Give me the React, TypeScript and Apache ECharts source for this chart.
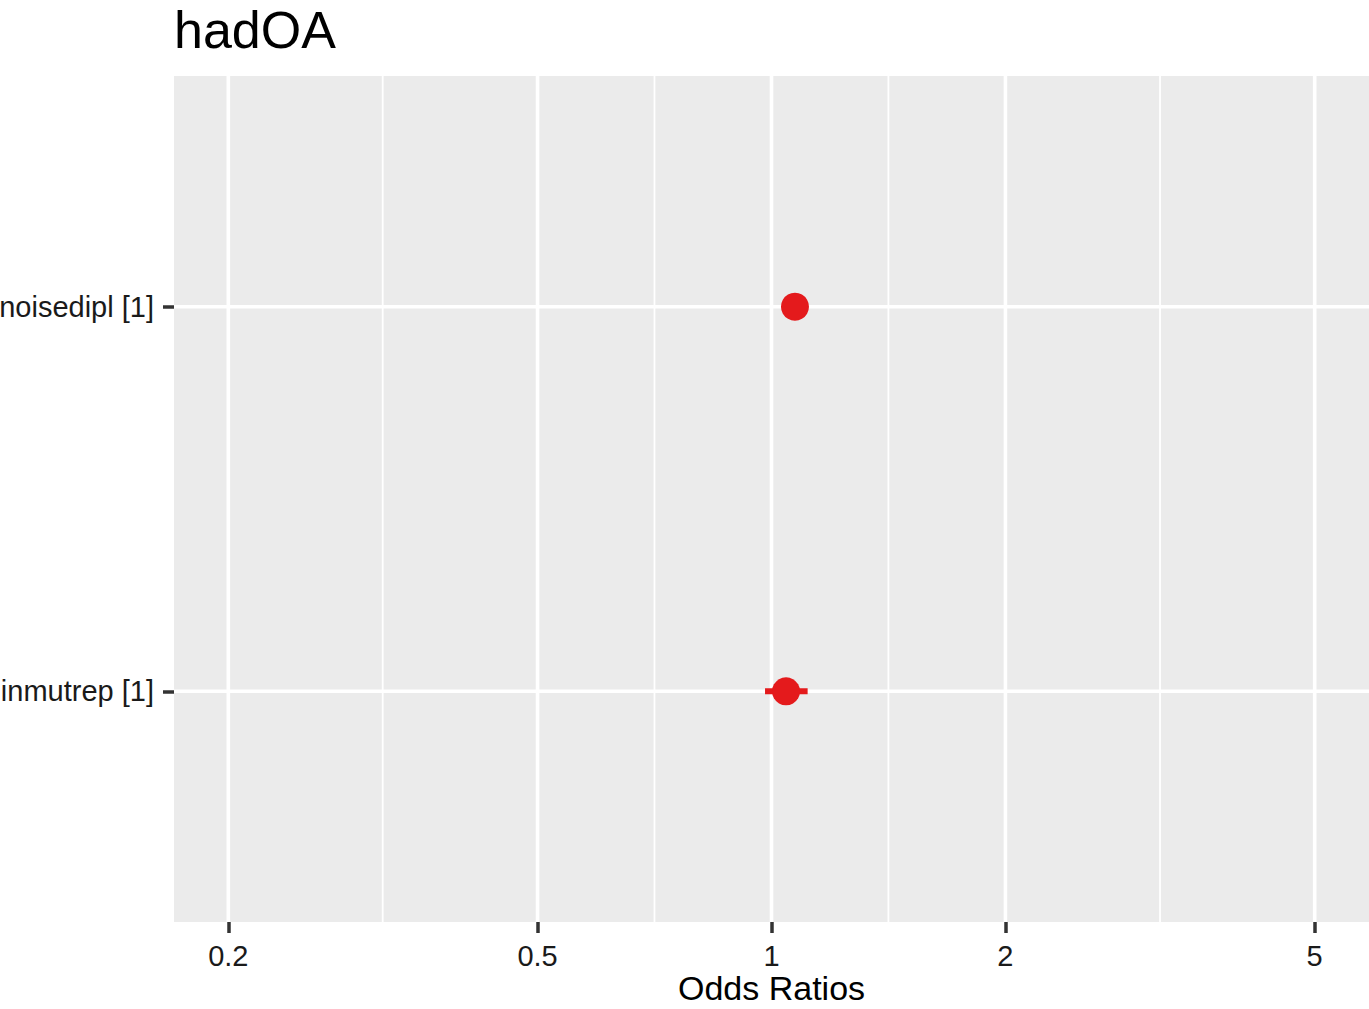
import React, { useEffect, useRef } from "react";
import * as echarts from "echarts";

const plotTitle = "hadOA";
const axisTitle = "Odds Ratios";
const terms = ["inmutrep [1]", "noisedipl [1]"];
const termPositions = [1, 2];
const oddsRatios = [1.044, 1.072];
const ciLow = [0.981, 1.045];
const ciHigh = [1.113, 1.1];
const majorBreaks = [0.2, 0.5, 1, 2, 5];
const minorBreaks = [0.316, 0.707, 1.414, 3.162];
const xLimits = [0.2, 5];

const FONT = "'Liberation Sans', Arial, Helvetica, sans-serif";

export default function App() {
  const ref = useRef<HTMLDivElement>(null);
  useEffect(() => {
    document.body.style.margin = "0";
    if (!ref.current) return;
    const chart = echarts.init(ref.current, null, { renderer: "svg" });
    const lo = Math.log10(xLimits[0]);
    const hi = Math.log10(xLimits[1]);
    const pad = 0.05 * (hi - lo);
    const majorLog = majorBreaks.map((b) => Math.log10(b));
    const minorLog = minorBreaks.map((b) => Math.log10(b));

    const pointData = termPositions.map((p, i) => [Math.log10(oddsRatios[i]), p]);
    const ciData = termPositions.map((p, i) => [Math.log10(ciLow[i]), Math.log10(ciHigh[i]), p]);
    // [orientation (0 = vertical, 1 = horizontal), value, width]
    const gridData = [
      ...minorLog.map((v) => [0, v, 1.8]),
      ...majorLog.map((v) => [0, v, 3.6]),
      ...termPositions.map((v) => [1, v, 3.6]),
    ];

    chart.setOption({
      animation: false,
      backgroundColor: "#ffffff",
      title: {
        text: plotTitle,
        left: 174,
        top: 0,
        padding: 0,
        textStyle: { fontFamily: FONT, fontSize: 52, lineHeight: 59, fontWeight: "normal", color: "#000000" },
      },
      grid: {
        left: 174,
        right: 0,
        top: 76,
        bottom: 87,
        show: true,
        backgroundColor: "#EBEBEB",
        borderWidth: 0,
        containLabel: false,
        outerBoundsMode: "none",
      },
      xAxis: {
        type: "value",
        min: lo - pad,
        max: hi + pad,
        name: axisTitle,
        nameLocation: "middle",
        nameGap: 56,
        nameMoveOverlap: false,
        nameTextStyle: { fontFamily: FONT, fontSize: 34, lineHeight: 20, color: "#000000" },
        axisLine: { show: false, onZero: false },
        splitLine: { show: false },
        axisTick: {
          show: true,
          length: 11,
          customValues: majorLog,
          lineStyle: { color: "#333333", width: 3.5 },
        },
        axisLabel: {
          customValues: majorLog,
          margin: 19,
          fontFamily: FONT,
          fontSize: 29,
          color: "#1a1a1a",
          formatter: (v: number) => {
            const b = majorBreaks.find((x) => Math.abs(Math.log10(x) - v) < 1e-6);
            return b === undefined ? "" : String(b);
          },
        },
      },
      yAxis: {
        type: "value",
        min: 0.4,
        max: 2.6,
        axisLine: { show: false, onZero: false },
        splitLine: { show: false },
        axisTick: {
          show: true,
          length: 11,
          customValues: termPositions,
          lineStyle: { color: "#333333", width: 3.5 },
        },
        axisLabel: {
          customValues: termPositions,
          margin: 20,
          fontFamily: FONT,
          fontSize: 29,
          color: "#1a1a1a",
          formatter: (v: number) => {
            const i = termPositions.findIndex((p) => Math.abs(p - v) < 1e-6);
            return i < 0 ? "" : terms[i];
          },
        },
      },
      series: [
        {
          type: "custom",
          z: 1,
          silent: true,
          data: gridData,
          renderItem: (params: any, api: any) => {
            const cs = params.coordSys;
            const orient = api.value(0);
            const v = api.value(1);
            const w = api.value(2);
            if (orient === 0) {
              const x = api.coord([v, 1])[0];
              return {
                type: "line",
                shape: { x1: x, y1: cs.y, x2: x, y2: cs.y + cs.height },
                style: { stroke: "#ffffff", lineWidth: w },
              };
            }
            const y = api.coord([0, v])[1];
            return {
              type: "line",
              shape: { x1: cs.x, y1: y, x2: cs.x + cs.width, y2: y },
              style: { stroke: "#ffffff", lineWidth: w },
            };
          },
        },
        {
          type: "custom",
          z: 3,
          silent: true,
          data: ciData,
          renderItem: (params: any, api: any) => {
            const a = api.coord([api.value(0), api.value(2)]);
            const b = api.coord([api.value(1), api.value(2)]);
            return {
              type: "line",
              shape: { x1: a[0], y1: a[1], x2: b[0], y2: b[1] },
              style: { stroke: "#E41A1C", lineWidth: 6 },
            };
          },
        },
        {
          type: "scatter",
          z: 4,
          data: pointData,
          symbol: "circle",
          symbolSize: 28,
          itemStyle: { color: "#E41A1C", opacity: 1 },
        },
      ],
    });
    return () => chart.dispose();
  }, []);
  return <div ref={ref} style={{ width: 1369, height: 1009 }} />;
}
